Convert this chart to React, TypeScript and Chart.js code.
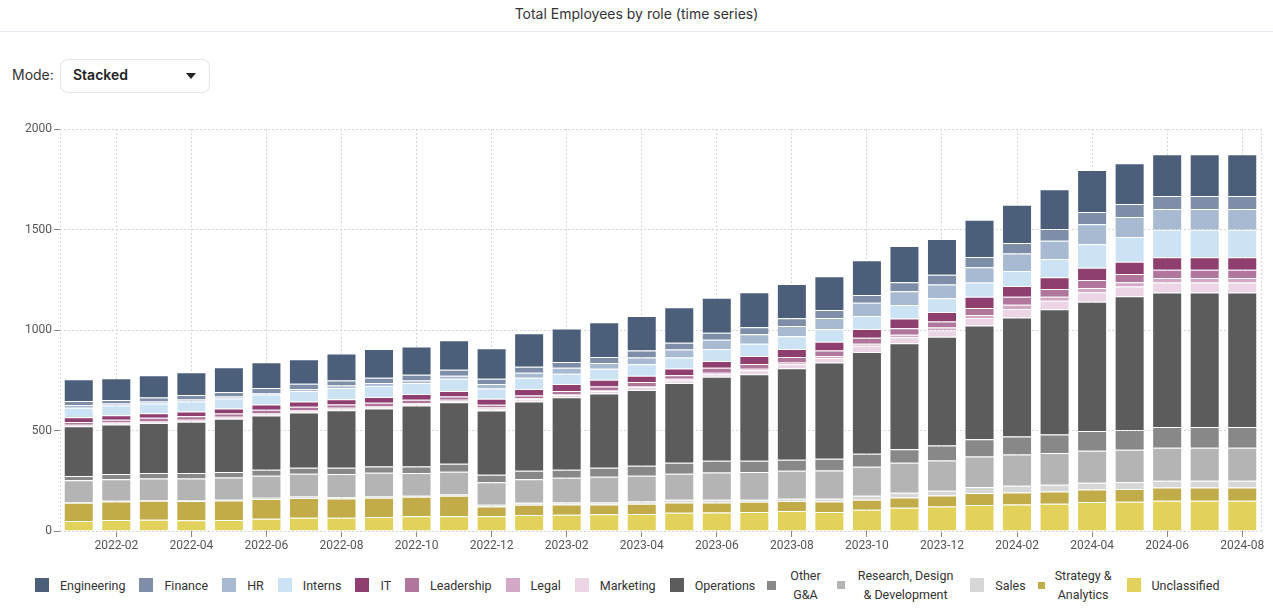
import React, { useEffect, useRef } from "react";
import { Chart, registerables } from "chart.js";

Chart.register(...registerables);

// ---------- data ----------
const months = [
  "2022-01", "2022-02", "2022-03", "2022-04", "2022-05", "2022-06", "2022-07", "2022-08",
  "2022-09", "2022-10", "2022-11", "2022-12", "2023-01", "2023-02", "2023-03", "2023-04",
  "2023-05", "2023-06", "2023-07", "2023-08", "2023-09", "2023-10", "2023-11", "2023-12",
  "2024-01", "2024-02", "2024-03", "2024-04", "2024-05", "2024-06", "2024-07", "2024-08",
];

const yTicks = [0, 500, 1000, 1500, 2000];

const engineering = [108, 108, 111, 113, 123, 128, 123, 134, 143, 141, 147, 152, 167, 166, 173, 172, 176, 174, 174, 170, 167, 173, 181, 178, 186, 190, 198, 209, 202, 207, 207, 207];
const finance = [20, 18, 20, 23, 23, 25, 26, 25, 26, 28, 29, 26, 30, 29, 30, 35, 34, 35, 35, 39, 40, 39, 44, 49, 51, 53, 58, 61, 65, 65, 65, 65];
const hr = [14, 10, 10, 10, 10, 8, 10, 13, 14, 13, 16, 22, 25, 30, 29, 33, 40, 46, 47, 51, 56, 65, 68, 68, 76, 86, 91, 100, 99, 103, 103, 103];
const interns = [47, 48, 48, 50, 50, 50, 52, 55, 55, 54, 60, 51, 56, 51, 55, 57, 55, 59, 61, 63, 63, 65, 68, 68, 70, 75, 91, 116, 123, 137, 137, 137];
const it = [24, 23, 23, 23, 24, 26, 26, 27, 29, 29, 28, 30, 32, 34, 33, 32, 33, 34, 40, 40, 43, 44, 48, 48, 56, 53, 58, 61, 61, 62, 62, 62];
const leadership = [13, 13, 16, 18, 17, 18, 19, 16, 19, 17, 16, 14, 13, 16, 17, 19, 18, 25, 24, 28, 28, 30, 33, 30, 35, 40, 38, 40, 41, 41, 41, 41];
const legal = [5, 5, 5, 5, 5, 5, 5, 5, 5, 5, 7, 6, 5, 5, 6, 6, 8, 7, 7, 8, 9, 9, 12, 13, 15, 21, 21, 21, 22, 23, 23, 23];
const marketing = [3, 5, 5, 5, 5, 5, 5, 7, 5, 7, 5, 9, 12, 10, 12, 14, 13, 12, 20, 20, 23, 31, 30, 33, 38, 43, 42, 47, 48, 50, 50, 50];
const operations = [247, 247, 249, 255, 265, 270, 274, 286, 288, 303, 307, 319, 344, 361, 369, 377, 397, 419, 431, 456, 479, 507, 527, 541, 565, 592, 623, 643, 665, 669, 669, 669];
const otherGA = [22, 25, 27, 27, 27, 30, 30, 32, 31, 33, 39, 37, 42, 40, 45, 50, 54, 58, 56, 54, 58, 64, 68, 74, 86, 89, 92, 99, 99, 103, 103, 103];
const researchDesignDev = [108, 107, 107, 109, 110, 109, 113, 114, 118, 113, 113, 112, 117, 123, 128, 128, 129, 135, 137, 139, 140, 145, 149, 151, 152, 156, 158, 159, 160, 164, 164, 164];
const sales = [3, 4, 3, 3, 4, 7, 8, 7, 6, 5, 7, 9, 10, 10, 10, 11, 14, 14, 10, 12, 14, 19, 23, 23, 30, 33, 33, 33, 35, 33, 33, 33];
const strategyAnalytics = [91, 92, 95, 96, 97, 98, 98, 96, 96, 97, 102, 49, 51, 51, 49, 52, 51, 50, 52, 49, 53, 50, 51, 55, 60, 60, 61, 63, 63, 66, 66, 66];
const unclassified = [50, 55, 56, 53, 55, 61, 66, 66, 70, 73, 73, 73, 80, 81, 83, 84, 91, 92, 94, 100, 94, 106, 116, 122, 129, 132, 136, 144, 146, 151, 151, 151];

const roleNames = [
  "Engineering", "Finance", "HR", "Interns", "IT", "Leadership", "Legal", "Marketing",
  "Operations", "Other G&A", "Research, Design & Development", "Sales", "Strategy & Analytics", "Unclassified",
];
const roleValues = [
  engineering, finance, hr, interns, it, leadership, legal, marketing,
  operations, otherGA, researchDesignDev, sales, strategyAnalytics, unclassified,
];

// ---------- styles ----------
const roleColors = [
  "#4b5f7b", "#7e8ea9", "#a8b9d2", "#cce2f5", "#8e3f6f", "#b0769b", "#d3a9c5", "#ecd6e6",
  "#5c5c5c", "#888888", "#b4b4b4", "#d7d7d7", "#c1ac49", "#e2d25b",
];
// legend rendering: label lines and box size (the original legend squeezes boxes of wrapped labels)
const legendLines = [
  ["Engineering"], ["Finance"], ["HR"], ["Interns"], ["IT"], ["Leadership"], ["Legal"], ["Marketing"],
  ["Operations"], ["Other", "G&A"], ["Research, Design", "& Development"], ["Sales"], ["Strategy &", "Analytics"], ["Unclassified"],
];
const legendBox = [14, 14, 14, 14, 14, 14, 14, 14, 14, 9, 8, 14, 7, 14];
const legendBoxGap = [11, 11, 11, 11, 11, 11, 11, 11, 11, 14, 13, 11, 10, 11];
const legendItemGap = [14, 14, 14, 14, 14, 14, 14, 14, 12, 16, 17, 12, 15, 14];

const UI_FONT = "Inter, 'Noto Sans', sans-serif";
const LEGEND_FONT = "Roboto, sans-serif";

const edgePlugin = {
  id: "edges",
  beforeDatasetsDraw(chart: any) {
    const { ctx, chartArea } = chart;
    const { left, right, top, bottom } = chartArea;
    ctx.save();
    ctx.strokeStyle = "#d6d6d6";
    ctx.lineWidth = 1;
    ctx.setLineDash([2, 2]);
    [left, right].forEach((x: number) => {
      const px = Math.round(x) + 0.5;
      ctx.beginPath();
      ctx.moveTo(px, top);
      ctx.lineTo(px, bottom);
      ctx.stroke();
    });
    ctx.restore();
  },
};

function StackedChart() {
  const ref = useRef<HTMLCanvasElement | null>(null);
  useEffect(() => {
    if (!ref.current) return;
    const datasets = roleNames
      .map((name, i) => ({
        label: name,
        data: roleValues[i],
        backgroundColor: roleColors[i],
        borderColor: "rgba(255,255,255,0.5)",
        borderWidth: 1,
        borderSkipped: "start" as const,
        categoryPercentage: 0.8,
        barPercentage: 1.0,
      }))
      .reverse();
    const chart = new Chart(ref.current, {
      type: "bar",
      data: { labels: months, datasets },
      plugins: [edgePlugin],
      options: {
        animation: false,
        responsive: true,
        maintainAspectRatio: false,
        layout: { padding: { top: 19, right: 12, left: 0, bottom: 0 } },
        plugins: {
          legend: { display: false },
          title: { display: false },
          tooltip: { enabled: true },
        },
        scales: {
          x: {
            stacked: true,
            afterFit: (s: any) => {
              s.height = 29;
            },
            grid: {
              offset: false,
              color: "#d6d6d6",
              drawTicks: true,
              tickLength: 6,
              tickColor: "#8a8a8a",
              tickBorderDash: [],
            },
            border: { display: false, dash: [2, 2] },
            ticks: {
              autoSkip: false,
              maxRotation: 0,
              padding: 2,
              color: "#555",
              font: { family: "Roboto, sans-serif", size: 12 },
              callback: (_v: any, i: number) => (i % 2 === 1 ? months[i] : null),
            },
          },
          y: {
            stacked: true,
            min: yTicks[0],
            max: yTicks[yTicks.length - 1],
            afterFit: (s: any) => {
              s.width = 60;
            },
            afterBuildTicks: (s: any) => {
              s.ticks = yTicks.map((v) => ({ value: v }));
            },
            grid: {
              color: "#d6d6d6",
              drawTicks: true,
              tickLength: 6,
              tickColor: "#8a8a8a",
              tickBorderDash: [],
            },
            border: { display: false, dash: [2, 2] },
            ticks: {
              padding: 2,
              color: "#555",
              font: { family: "Roboto, sans-serif", size: 12 },
              callback: (v: any) => String(v),
            },
          },
        },
      },
    });
    return () => chart.destroy();
  }, []);
  return <canvas ref={ref} />;
}

export default function App() {
  useEffect(() => {
    document.body.style.margin = "0";
  }, []);
  return (
    <div style={{ position: "relative", width: 1273, height: 612, overflow: "hidden", fontFamily: UI_FONT, background: "#fff" }}>
      <div
        style={{
          position: "absolute", left: 0, top: 0, width: 1273, height: 32,
          borderBottom: "1px solid #e4e8f0", boxSizing: "border-box",
          textAlign: "center", lineHeight: "28px", fontSize: 14, color: "#333",
        }}
      >
        Total Employees by role (time series)
      </div>
      <div style={{ position: "absolute", left: 12, top: 66, fontSize: 14, color: "#333", lineHeight: "18px" }}>Mode:</div>
      <div
        style={{
          position: "absolute", left: 60, top: 59, width: 150, height: 34, boxSizing: "border-box",
          border: "1px solid #e3e3e3", borderRadius: 8, background: "#fff",
        }}
      >
        <div style={{ position: "absolute", left: 12, top: 6, fontSize: 14, fontWeight: 600, color: "#222", lineHeight: "18px" }}>Stacked</div>
        <div
          style={{
            position: "absolute", left: 125, top: 13, width: 0, height: 0,
            borderLeft: "5.5px solid transparent", borderRight: "5.5px solid transparent", borderTop: "6px solid #222",
          }}
        />
      </div>
      <div style={{ position: "absolute", left: 0, top: 110, width: 1273, height: 450 }}>
        <StackedChart />
      </div>
      <div
        style={{
          position: "absolute", left: 35, top: 560, height: 50, display: "flex", alignItems: "center",
          fontFamily: LEGEND_FONT, fontSize: 12.5, color: "#333",
        }}
      >
        {roleNames.map((name, i) => (
          <div key={name} style={{ display: "flex", alignItems: "center", marginRight: legendItemGap[i] }}>
            <div
              style={{
                width: legendBox[i], height: legendBox[i], background: roleColors[i],
                marginRight: legendBoxGap[i], flex: "none",
              }}
            />
            <div style={{ textAlign: "center", lineHeight: legendLines[i].length > 1 ? "19px" : "15px", whiteSpace: "nowrap" }}>
              {legendLines[i].map((ln, k) => (
                <div key={k}>{ln}</div>
              ))}
            </div>
          </div>
        ))}
      </div>
    </div>
  );
}
